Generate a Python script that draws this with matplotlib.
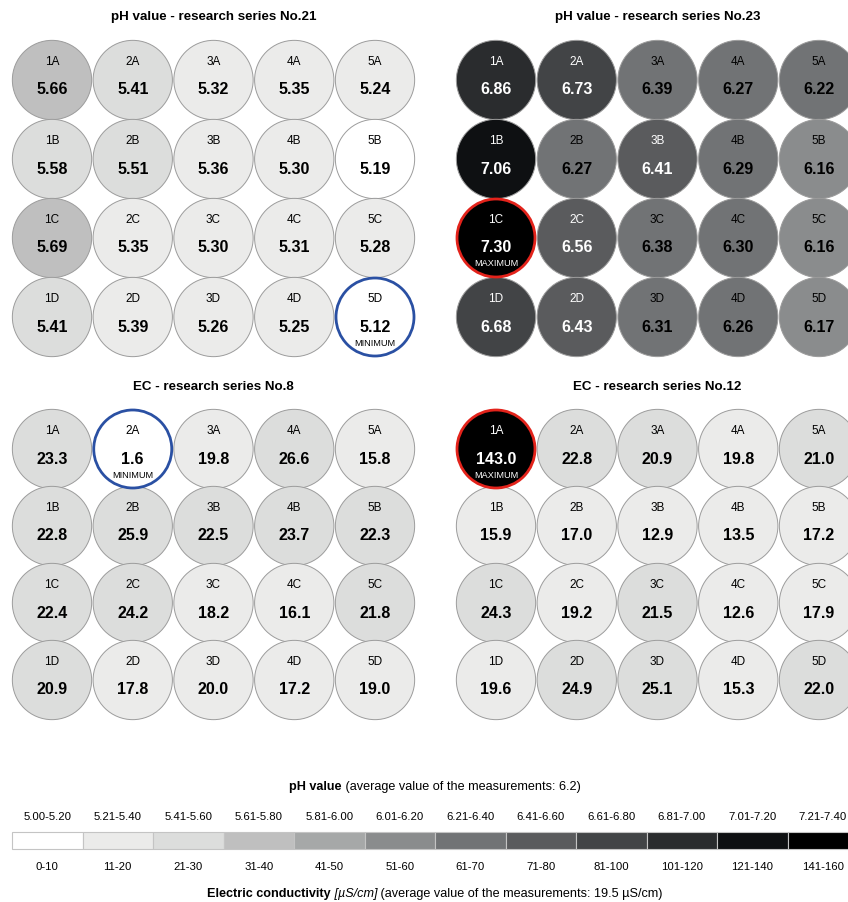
import numpy as np
import matplotlib
matplotlib.use("Agg")
import matplotlib.pyplot as plt
from matplotlib.patches import Circle, Rectangle

plt.rcParams['font.family'] = ['Liberation Sans Narrow', 'Liberation Sans', 'DejaVu Sans']

# ---- data -------------------------------------------------------------
columns = ["1", "2", "3", "4", "5"]
rows = ["A", "B", "C", "D"]

ph_series21 = [[5.66, 5.41, 5.32, 5.35, 5.24],
               [5.58, 5.51, 5.36, 5.30, 5.19],
               [5.69, 5.35, 5.30, 5.31, 5.28],
               [5.41, 5.39, 5.26, 5.25, 5.12]]
ph_series23 = [[6.86, 6.73, 6.39, 6.27, 6.22],
               [7.06, 6.27, 6.41, 6.29, 6.16],
               [7.30, 6.56, 6.38, 6.30, 6.16],
               [6.68, 6.43, 6.31, 6.26, 6.17]]
ec_series8 = [[23.3, 1.6, 19.8, 26.6, 15.8],
              [22.8, 25.9, 22.5, 23.7, 22.3],
              [22.4, 24.2, 18.2, 16.1, 21.8],
              [20.9, 17.8, 20.0, 17.2, 19.0]]
ec_series12 = [[143.0, 22.8, 20.9, 19.8, 21.0],
               [15.9, 17.0, 12.9, 13.5, 17.2],
               [24.3, 19.2, 21.5, 12.6, 17.9],
               [19.6, 24.9, 25.1, 15.3, 22.0]]

ph_classes = ["5.00-5.20", "5.21-5.40", "5.41-5.60", "5.61-5.80", "5.81-6.00", "6.01-6.20",
              "6.21-6.40", "6.41-6.60", "6.61-6.80", "6.81-7.00", "7.01-7.20", "7.21-7.40"]
ph_upper = [5.20, 5.40, 5.60, 5.80, 6.00, 6.20, 6.40, 6.60, 6.80, 7.00, 7.20, 7.40]
ec_classes = ["0-10", "11-20", "21-30", "31-40", "41-50", "51-60",
              "61-70", "71-80", "81-100", "101-120", "121-140", "141-160"]
ec_upper = [10, 20, 30, 40, 50, 60, 70, 80, 100, 120, 140, 160]

ph_mean = 6.2
ec_mean = 19.5

shades = ["#ffffff", "#ebebea", "#dcdddc", "#bfbfbf", "#a6a8a8", "#8a8c8d",
          "#717375", "#5a5b5d", "#424446", "#2a2c2e", "#0e1012", "#000000"]

# ---- figure -----------------------------------------------------------
W, H = 848, 902
fig = plt.figure(figsize=(W / 100, H / 100), dpi=100)
ax = fig.add_axes([0, 0, 1, 1])
ax.set_xlim(0, W)
ax.set_ylim(H, 0)
ax.axis("off")

R = 40
DX = 80.75


def shade_index(v, uppers, decimals):
    v = round(v, decimals)
    for i, u in enumerate(uppers):
        if v <= u:
            return i
    return len(uppers) - 1


def panel(values, title, x0, y0, dy, title_y, uppers, decimals, fmt, vmin, vmax):
    ax.text(x0 + 2 * DX, title_y, title, ha="center", va="center",
            fontsize=9.6, fontweight="bold")
    for r, row in enumerate(rows):
        for c, col in enumerate(columns):
            v = values[r][c]
            k = shade_index(v, uppers, decimals)
            cx, cy = x0 + c * DX, y0 + r * dy
            edge, lw = "#9c9c9c", 0.7
            note = None
            if v == vmax:
                edge, lw, note = "#e3231b", 2.0, "MAXIMUM"
            elif v == vmin:
                edge, lw, note = "#2a50a3", 2.0, "MINIMUM"
            ax.add_patch(Circle((cx, cy), R - lw / 2, facecolor=shades[k],
                                edgecolor=edge, linewidth=lw, zorder=2 + (note is not None)))
            tc = "white" if k >= 7 else "black"
            ax.text(cx, cy - 18, col + row, ha="center", va="center",
                    fontsize=8.5, color=tc, zorder=5)
            ax.text(cx, cy + 10, fmt.format(v), ha="center", va="center",
                    fontsize=11.5, fontweight="bold", color=tc, zorder=5)
            if note:
                ax.text(cx, cy + 26, note, ha="center", va="center",
                        fontsize=6.6, color=tc, zorder=5)


ph_all = np.array(ph_series21 + ph_series23)
ec_all = np.array(ec_series8 + ec_series12)

panel(ph_series21, "pH value - research series No.21", 52, 80, 79, 17,
      ph_upper, 2, "{:.2f}", ph_all.min(), ph_all.max())
panel(ph_series23, "pH value - research series No.23", 496, 80, 79, 17,
      ph_upper, 2, "{:.2f}", ph_all.min(), ph_all.max())
panel(ec_series8, "EC - research series No.8", 52, 449, 77, 387,
      ec_upper, 0, "{:.1f}", ec_all.min(), ec_all.max())
panel(ec_series12, "EC - research series No.12", 496, 449, 77, 387,
      ec_upper, 0, "{:.1f}", ec_all.min(), ec_all.max())

# ---- legend bar -------------------------------------------------------
LX, LW = 12, 70.5
bar_top, bar_h = 832, 17
for i in range(len(shades)):
    x = LX + i * LW
    ax.add_patch(Rectangle((x, bar_top), LW, bar_h, facecolor=shades[i],
                           edgecolor="#c4c4c4", linewidth=0.8, zorder=2))
    ax.text(x + LW / 2, 817, ph_classes[i], ha="center", va="center", fontsize=8.2)
    ax.text(x + LW / 2, 867, ec_classes[i], ha="center", va="center", fontsize=8.2)

renderer = fig.canvas.get_renderer()


def mixed_line(parts, xc, y):
    """Centre a line made of differently styled pieces at xc."""
    objs = [ax.text(0, y, s, ha="left", va="center", fontsize=9.1, **kw) for s, kw in parts]
    widths = [o.get_window_extent(renderer).width for o in objs]
    x = xc - sum(widths) / 2
    for o, w in zip(objs, widths):
        o.set_x(x)
        x += w


bar_mid = LX + len(shades) * LW / 2
mixed_line([("pH value", dict(fontweight="bold")),
            (f" (average value of the measurements: {ph_mean})", {})], bar_mid, 787)
mixed_line([("Electric conductivity", dict(fontweight="bold")),
            (" [µS/cm]", dict(style="italic")),
            (f" (average value of the measurements: {ec_mean} µS/cm)", {})], bar_mid, 894)

fig.savefig("out.png", dpi=100)
